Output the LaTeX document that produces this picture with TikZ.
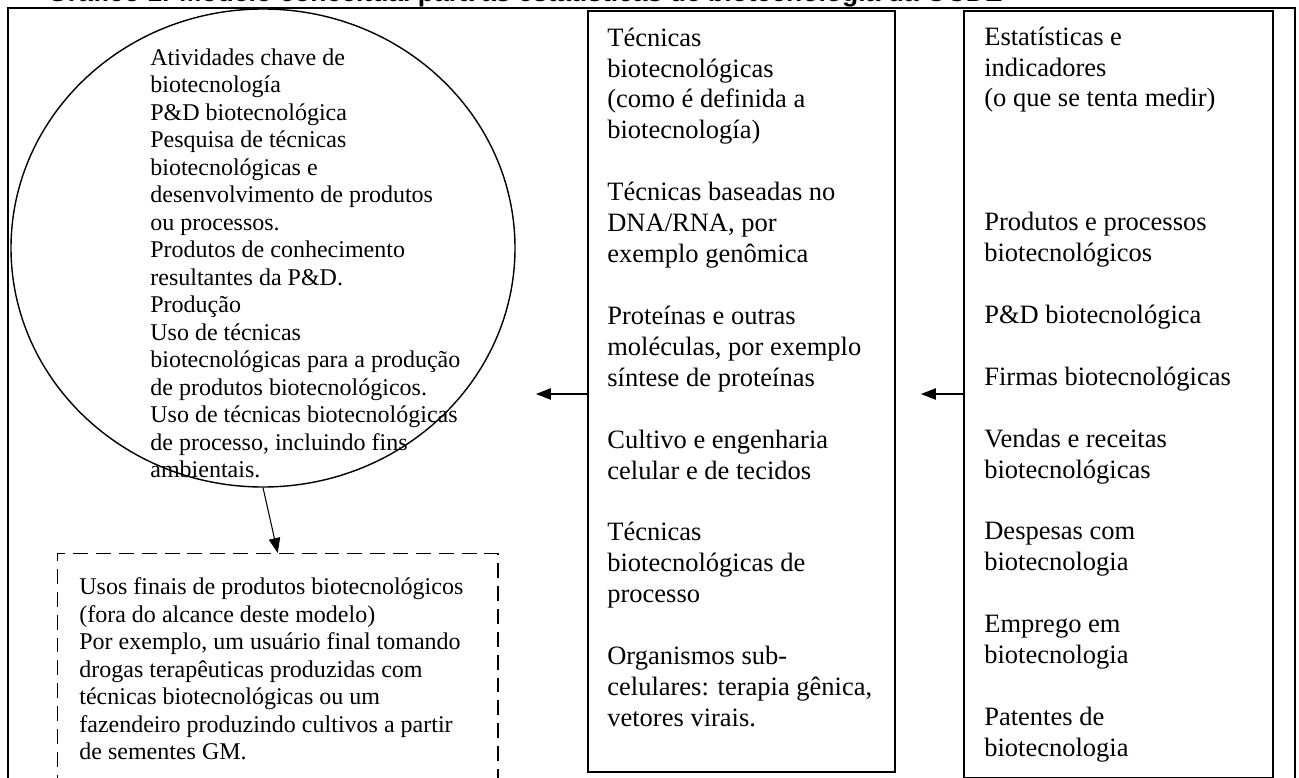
\documentclass[tikz,border=0pt]{standalone}
\usepackage{fontspec}
\setmainfont{Liberation Serif}
\newfontfamily\captionfont{Liberation Sans}
\usetikzlibrary{arrows.meta,shapes.geometric}
\definecolor{ocdeink}{HTML}{000000}

\begin{document}
\begin{tikzpicture}[
  colbox/.style={draw=ocdeink, line width=0.9pt, anchor=north west, inner sep=0pt},
  coltext/.style={anchor=north west, inner sep=0pt, align=left, font=\fontsize{15.08}{17.6}\selectfont},
  coretext/.style={anchor=north west, inner sep=0pt, align=left, font=\fontsize{13.66}{15.65}\selectfont},
  link/.style={draw=ocdeink, -{Triangle[length=8.5pt,width=6.5pt]}, line width=0.6pt},
]
  \useasboundingbox (0,0) rectangle (25.98,-15.56);
  % title, cut at the top of the picture
  \node[anchor=base west, inner sep=0pt, font=\captionfont\bfseries\fontsize{15.08}{18}\selectfont] (title) at (0.94,-0.04) {Gráfico 1. Modelo conceitual para as estatísticas de biotecnologia da OCDE};
  % key activities
  \node[draw=ocdeink, line width=0.8pt, ellipse, minimum width=10.08cm, minimum height=9.56cm, inner sep=0pt] (core) at (5.26,-4.96) {};
  \node[coretext] (coretxt) at (3.0,-0.966) {Atividades chave de\\
    biotecnología\\
    P\&D biotecnológica\\
    Pesquisa de técnicas\\
    biotecnológicas e\\
    desenvolvimento de produtos\\
    ou processos.\\
    Produtos de conhecimento\\
    resultantes da P\&D.\\
    Produção\\
    Uso de técnicas\\
    biotecnológicas para a produção\\
    de produtos biotecnológicos.\\
    Uso de técnicas biotecnológicas\\
    de processo, incluindo fins\\
    ambientais.};
  % end uses
  \node[draw=ocdeink, line width=0.85pt, dash pattern=on 8.5pt off 4.5pt, anchor=north west, inner sep=0pt, minimum width=8.8cm, minimum height=4.94cm] (uses) at (1.14,-11.06) {};
  \node[coretext] (usestxt) at (1.58,-11.55) {Usos finais de produtos biotecnológicos\\
    (fora do alcance deste modelo)\\
    Por exemplo, um usuário final tomando\\
    drogas terapêuticas produzidas com\\
    técnicas biotecnológicas ou um\\
    fazendeiro produzindo cultivos a partir\\
    de sementes GM.};
  % techniques
  \node[colbox, minimum width=6.14cm, minimum height=15.22cm] (techbox) at (11.74,-0.2) {};
  \node[coltext] (techtxt) at (12.14,-0.546) {Técnicas\\ biotecnológicas\\ (como é definida a\\ biotecnología)\\[17.6pt]
    Técnicas baseadas no\\ DNA/RNA, por\\ exemplo genômica\\[17.6pt]
    Proteínas e outras\\ moléculas, por exemplo\\ síntese de proteínas\\[17.6pt]
    Cultivo e engenharia\\ celular e de tecidos\\[17.6pt]
    Técnicas\\ biotecnológicas de\\ processo\\[17.6pt]
    Organismos sub-\\ celulares: terapia gênica,\\ vetores virais.};
  % statistics
  \node[colbox, minimum width=6.18cm, minimum height=15.34cm] (statsbox) at (19.26,-0.2) {};
  \node[coltext] (statstxt) at (19.68,-0.526) {Estatísticas e\\ indicadores\\ (o que se tenta medir)\\[52.8pt]
    Produtos e processos\\ biotecnológicos\\[17.6pt]
    P\&D biotecnológica\\[17.6pt]
    Firmas biotecnológicas\\[17.6pt]
    Vendas e receitas\\ biotecnológicas\\[17.6pt]
    Despesas com\\ biotecnologia\\[17.6pt]
    Emprego em\\ biotecnologia\\[17.6pt]
    Patentes de\\ biotecnologia};
  % arrows
  \coordinate (tocore) at (10.72,-7.88);
  \coordinate (totech) at (18.42,-7.88);
  \draw[link] (techbox.west |- tocore) -- (tocore);
  \draw[link] (statsbox.west |- totech) -- (totech);
  \draw[link] (core.south) -- (uses.north);
  % outer frame
  \draw[ocdeink, line width=1.4pt] (0.16,-16) -- (0.16,-0.16) -- (25.9,-0.16) -- (25.9,-16);
\end{tikzpicture}
\end{document}
